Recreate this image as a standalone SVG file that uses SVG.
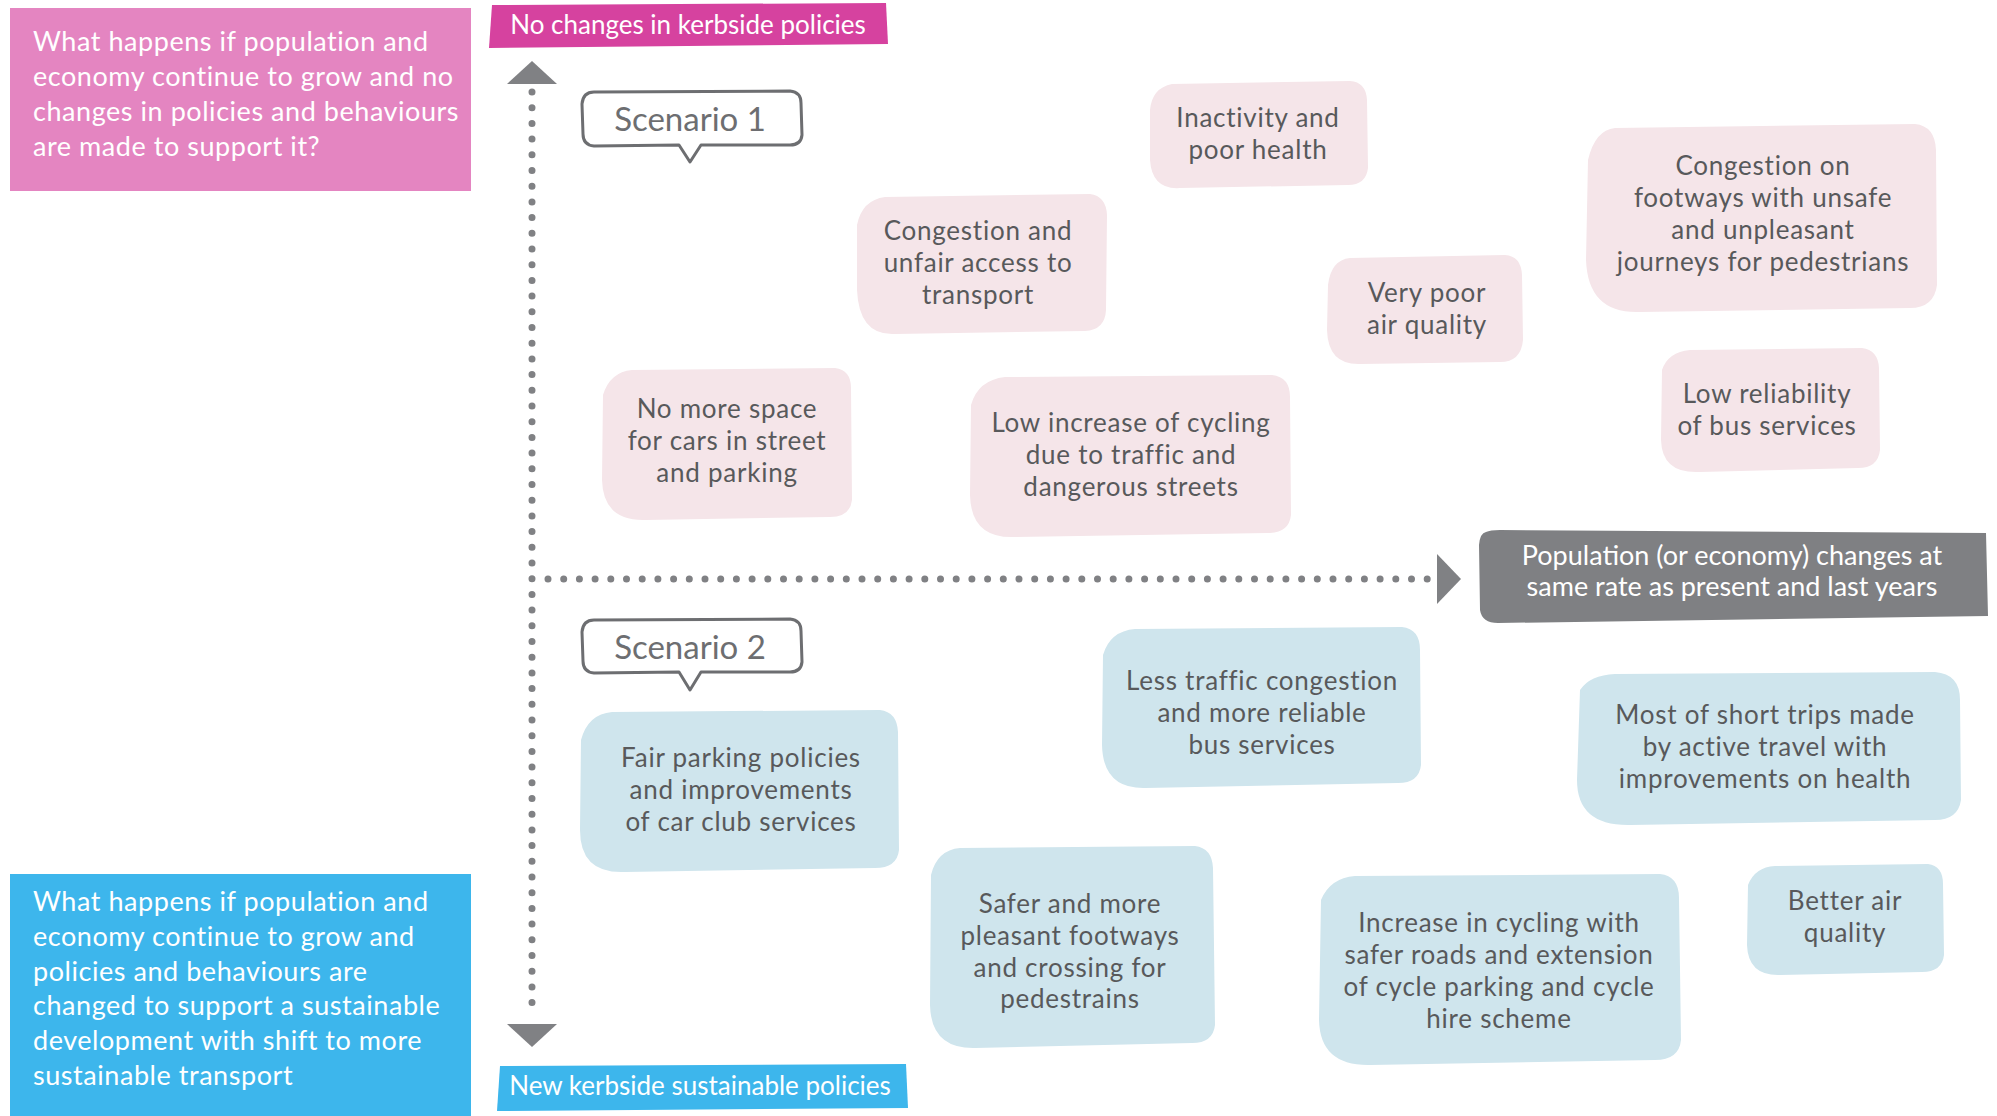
<svg xmlns="http://www.w3.org/2000/svg" width="1997" height="1116" viewBox="0 0 1997 1116">
<style>
.q{font-family:"Lato","Noto Sans",sans-serif;font-size:27px;letter-spacing:0.55px;fill:#ffffff}
.t{font-family:"Lato","Noto Sans",sans-serif;font-size:26px;letter-spacing:0.75px;fill:#58595b;text-anchor:middle}
.h{font-family:"Lato","DejaVu Sans",sans-serif;fill:#ffffff;text-anchor:middle}
.sc{font-family:"Lato","DejaVu Sans",sans-serif;font-size:33px;fill:#6d6e71;text-anchor:middle}
.pk{fill:#f5e5e9}
.bl{fill:#cfe5ed}
.callout{fill:#ffffff;stroke:#6d6e71;stroke-width:3;stroke-linejoin:round}
.dots{fill:none;stroke:#808184;stroke-width:7;stroke-linecap:round;stroke-dasharray:0 15.7}
.arr{fill:#808184}
</style>

<g id="question-no-change">
<rect x="10" y="8" width="461" height="183" fill="#e485c1"/>
<text class="q" x="33" y="51">What happens if population and</text>
<text class="q" x="33" y="86">economy continue to grow and no</text>
<text class="q" x="33" y="121">changes in policies and behaviours</text>
<text class="q" x="33" y="156">are made to support it?</text>
</g>

<g id="question-sustainable">
<rect x="10" y="874" width="461" height="242" fill="#3db6ec"/>
<text class="q" x="33" y="911">What happens if population and</text>
<text class="q" x="33" y="946">economy continue to grow and</text>
<text class="q" x="33" y="981">policies and behaviours are</text>
<text class="q" x="33" y="1015">changed to support a sustainable</text>
<text class="q" x="33" y="1050">development with shift to more</text>
<text class="q" x="33" y="1085">sustainable transport</text>
</g>

<g id="label-no-changes">
<path d="M492 5 L886 3 L888 44 L489 48 Z" fill="#d6429f"/>
<text class="h" x="688" y="34" font-size="26">No changes in kerbside policies</text>
</g>

<g id="label-new-kerbside">
<path d="M500 1066 L906 1064 L908 1108 L497 1111 Z" fill="#3db6ec"/>
<text class="h" x="700" y="1095" font-size="26">New kerbside sustainable policies</text>
</g>

<g id="label-population">
<path d="M1486 532 Q1490 530 1500 530 L1986 533 L1988 616 L1498 623 Q1482 623 1480 610 L1479 545 Q1480 533 1486 532 Z" fill="#7f8083"/>
<text class="h" x="1732" y="565" font-size="27">Population (or economy) changes at</text>
<text class="h" x="1732" y="596" font-size="27">same rate as present and last years</text>
</g>

<g id="connectors">
<line class="dots" x1="532" y1="92" x2="532" y2="1013"/>
<polygon class="arr" points="532,61 557,84 507,84"/>
<polygon class="arr" points="532,1047 557,1024 507,1024"/>
<line class="dots" x1="548" y1="579" x2="1429" y2="579"/>
<polygon class="arr" points="1461,579 1437,554 1437,604"/>
</g>

<g id="scenario-1">
<path class="callout" d="M594 92 L790 91 Q801 92 801 103 L802 135 Q801 145 790 145 L701 145 L690 162 L679 145 L594 146 Q583 145 583 134 L582 104 Q583 92 594 92 Z"/>
<text class="sc" x="690" y="131">Scenario 1</text>
</g>

<g id="scenario-2">
<path class="callout" d="M594 620 L790 619 Q801 620 801 631 L802 662 Q801 672 790 672 L701 672 L690 690 L679 672 L594 673 Q583 672 583 661 L582 632 Q583 620 594 620 Z"/>
<text class="sc" x="690" y="659">Scenario 2</text>
</g>

<g id="inactivity">
<path class="pk" d="M1150 110 Q1152 88 1172 84 L1350 81 Q1366 82 1367 100 L1368 168 Q1366 185 1348 185 L1180 188 Q1152 190 1150 160 Z"/>
<text class="t" x="1258" y="127">Inactivity and</text>
<text class="t" x="1258" y="159">poor health</text>
</g>

<g id="congestion-access">
<path class="pk" d="M857 225 Q862 200 885 197 L1090 194 Q1106 196 1107 215 L1106 310 Q1105 330 1085 331 L895 334 Q859 336 857 290 Z"/>
<text class="t" x="978" y="240">Congestion and</text>
<text class="t" x="978" y="272">unfair access to</text>
<text class="t" x="978" y="304">transport</text>
</g>

<g id="air-poor">
<path class="pk" d="M1328 285 Q1331 260 1350 258 L1505 255 Q1521 256 1522 275 L1523 340 Q1521 362 1500 362 L1360 364 Q1328 365 1327 330 Z"/>
<text class="t" x="1427" y="302">Very poor</text>
<text class="t" x="1427" y="334">air quality</text>
</g>

<g id="congestion-footways">
<path class="pk" d="M1588 160 Q1595 130 1615 128 L1915 124 Q1935 126 1936 150 L1937 285 Q1934 308 1910 308 L1640 312 Q1588 314 1586 260 Z"/>
<text class="t" x="1763" y="175">Congestion on</text>
<text class="t" x="1763" y="207">footways with unsafe</text>
<text class="t" x="1763" y="239">and  unpleasant</text>
<text class="t" x="1763" y="271">journeys for pedestrians</text>
</g>

<g id="bus-reliability">
<path class="pk" d="M1662 370 Q1668 352 1690 350 L1862 348 Q1878 350 1879 368 L1880 450 Q1878 468 1858 468 L1700 472 Q1662 474 1661 440 Z"/>
<text class="t" x="1767" y="403">Low reliability</text>
<text class="t" x="1767" y="435">of bus services</text>
</g>

<g id="no-space">
<path class="pk" d="M603 395 Q610 372 632 370 L835 368 Q851 370 851 388 L852 500 Q850 517 830 517 L645 520 Q603 521 602 480 Z"/>
<text class="t" x="727" y="418">No more space</text>
<text class="t" x="727" y="450">for cars in street</text>
<text class="t" x="727" y="482">and parking</text>
</g>

<g id="cycling-low">
<path class="pk" d="M971 405 Q978 380 1005 377 L1272 375 Q1290 377 1290 397 L1291 515 Q1289 533 1268 533 L1015 537 Q971 539 970 495 Z"/>
<text class="t" x="1131" y="432">Low increase of cycling</text>
<text class="t" x="1131" y="464">due to traffic and</text>
<text class="t" x="1131" y="496">dangerous streets</text>
</g>

<g id="fair-parking">
<path class="bl" d="M581 740 Q588 714 612 712 L880 710 Q897 712 898 732 L899 850 Q897 868 875 868 L625 872 Q580 874 580 830 Z"/>
<text class="t" x="741" y="767">Fair parking policies</text>
<text class="t" x="741" y="799">and improvements</text>
<text class="t" x="741" y="831">of car club services</text>
</g>

<g id="less-traffic">
<path class="bl" d="M1103 655 Q1110 631 1135 629 L1402 627 Q1420 629 1420 650 L1421 765 Q1419 783 1398 783 L1145 788 Q1103 789 1102 745 Z"/>
<text class="t" x="1262" y="690">Less traffic congestion</text>
<text class="t" x="1262" y="722">and more reliable</text>
<text class="t" x="1262" y="754">bus services</text>
</g>

<g id="short-trips">
<path class="bl" d="M1580 690 Q1590 675 1615 674 L1935 672 Q1960 674 1960 700 L1961 800 Q1958 820 1935 820 L1630 825 Q1577 826 1577 780 Z"/>
<text class="t" x="1765" y="724">Most of short trips made</text>
<text class="t" x="1765" y="756">by active travel with</text>
<text class="t" x="1765" y="788">improvements on health</text>
</g>

<g id="safer-footways">
<path class="bl" d="M931 875 Q937 850 960 848 L1195 846 Q1212 848 1213 868 L1215 1025 Q1213 1043 1192 1043 L975 1048 Q931 1049 930 1005 Z"/>
<text class="t" x="1070" y="913">Safer and more</text>
<text class="t" x="1070" y="945">pleasant footways</text>
<text class="t" x="1070" y="977">and crossing for</text>
<text class="t" x="1070" y="1008">pedestrains</text>
</g>

<g id="cycling-increase">
<path class="bl" d="M1321 900 Q1330 878 1355 876 L1660 874 Q1679 876 1679 898 L1681 1040 Q1679 1060 1655 1060 L1370 1065 Q1320 1066 1319 1020 Z"/>
<text class="t" x="1499" y="932">Increase in cycling with</text>
<text class="t" x="1499" y="964">safer roads and extension</text>
<text class="t" x="1499" y="996">of cycle parking and cycle</text>
<text class="t" x="1499" y="1028">hire scheme</text>
</g>

<g id="better-air">
<path class="bl" d="M1748 885 Q1755 867 1775 866 L1928 864 Q1943 866 1943 884 L1944 955 Q1942 972 1922 972 L1780 975 Q1748 976 1747 945 Z"/>
<text class="t" x="1845" y="910">Better air</text>
<text class="t" x="1845" y="942">quality</text>
</g>
</svg>
